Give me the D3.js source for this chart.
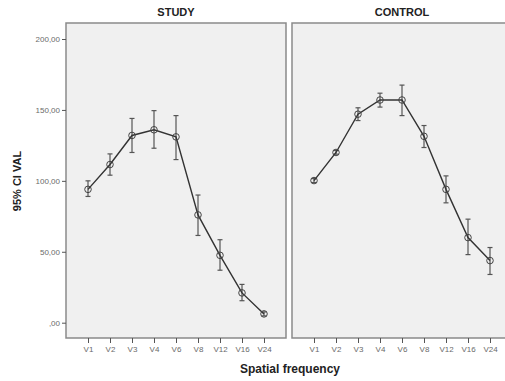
<!DOCTYPE html>
<html>
<head>
<meta charset="utf-8">
<script src="https://cdn.jsdelivr.net/npm/d3@7"></script>
<style>
  body { margin: 0; background: #fff; }
  svg { display: block; font-family: "Liberation Sans", Arial, sans-serif; }
</style>
</head>
<body>
<div id="chart"></div>
<script>
// categories (spatial frequency)
var freqs = ["V1", "V2", "V3", "V4", "V6", "V8", "V12", "V16", "V24"];
var yTicks = [0, 50, 100, 150, 200];

// STUDY group: mean and 95% CI
var studyMean = [94, 111.5, 132, 136, 131, 76, 47.5, 21, 6.2];
var studyLow  = [89, 104, 120, 123, 115, 61.5, 37, 15.5, 4.8];
var studyHigh = [100, 119, 144, 149.5, 146, 90, 58.5, 27, 7.6];

// CONTROL group: mean and 95% CI
var controlMean = [100.2, 120, 147, 157, 157, 131.4, 94, 60, 43.8];
var controlLow  = [98.8, 118.8, 142.5, 152, 146, 123.5, 84.5, 48, 34];
var controlHigh = [101.6, 121.4, 151.5, 161.8, 167.5, 139, 103.5, 73, 53];

var W = 505, H = 381;
var plotTop = 23, plotBottom = 338;
var panels = [
  {title: "STUDY", x0: 66, x1: 286, mean: studyMean, low: studyLow, high: studyHigh},
  {title: "CONTROL", x0: 292, x1: 512, mean: controlMean, low: controlLow, high: controlHigh}
];

var svg = d3.select("#chart").append("svg")
    .attr("width", W)
    .attr("height", H);

var y = d3.scaleLinear()
    .domain([0, 200])
    .range([322.7, 39]);

panels.forEach(function(p) {
    var x = d3.scalePoint()
        .domain(freqs)
        .range([p.x0, p.x1])
        .padding(1);

    // panel background
    svg.append("rect")
        .attr("x", p.x0)
        .attr("y", plotTop)
        .attr("width", p.x1 - p.x0)
        .attr("height", plotBottom - plotTop)
        .attr("fill", "#f0f0f0")
        .attr("stroke", "#8a8a8a")
        .attr("stroke-width", 1.5);

    // title
    svg.append("text")
        .attr("x", (p.x0 + p.x1) / 2)
        .attr("y", 16)
        .attr("text-anchor", "middle")
        .style("font-size", "11px")
        .style("font-weight", "bold")
        .attr("fill", "#222")
        .text(p.title);

    // x axis
    var xAxis = svg.append("g")
        .attr("transform", `translate(0,${plotBottom})`)
        .call(d3.axisBottom(x).tickSize(5).tickPadding(3));
    xAxis.select(".domain").remove();
    xAxis.selectAll("line").attr("stroke", "#555");
    xAxis.selectAll("text").attr("fill", "#6a6a6a").style("font-size", "8px");

    var pts = freqs.map((f, i) => ({f: f, m: p.mean[i], lo: p.low[i], hi: p.high[i]}));

    // error bars
    var eb = svg.append("g").attr("stroke", "#555").attr("stroke-width", 1.2);
    eb.selectAll(".v").data(pts).enter().append("line")
        .attr("x1", d => x(d.f)).attr("x2", d => x(d.f))
        .attr("y1", d => y(d.lo)).attr("y2", d => y(d.hi));
    eb.selectAll(".t").data(pts).enter().append("line")
        .attr("x1", d => x(d.f) - 2.5).attr("x2", d => x(d.f) + 2.5)
        .attr("y1", d => y(d.hi)).attr("y2", d => y(d.hi));
    eb.selectAll(".b").data(pts).enter().append("line")
        .attr("x1", d => x(d.f) - 2.5).attr("x2", d => x(d.f) + 2.5)
        .attr("y1", d => y(d.lo)).attr("y2", d => y(d.lo));

    // mean line
    svg.append("path")
        .datum(pts)
        .attr("fill", "none")
        .attr("stroke", "#333")
        .attr("stroke-width", 1.4)
        .attr("d", d3.line().x(d => x(d.f)).y(d => y(d.m)));

    // markers
    svg.append("g").selectAll("circle").data(pts).enter().append("circle")
        .attr("cx", d => x(d.f))
        .attr("cy", d => y(d.m))
        .attr("r", 3.3)
        .attr("fill", "none")
        .attr("stroke", "#444")
        .attr("stroke-width", 1);
});

// y axis on the left of the first panel
var yAxis = svg.append("g")
    .attr("transform", "translate(66,0)")
    .call(d3.axisLeft(y).tickValues(yTicks).tickSize(4).tickPadding(2)
        .tickFormat(d => d === 0 ? ",00" : d + ",00"));
yAxis.select(".domain").remove();
yAxis.selectAll("line").attr("stroke", "#555");
yAxis.selectAll("text").attr("fill", "#6a6a6a").style("font-size", "8px");

// axis titles
svg.append("text")
    .attr("transform", "translate(21,181) rotate(-90)")
    .attr("text-anchor", "middle")
    .style("font-size", "11px")
    .style("font-weight", "bold")
    .attr("fill", "#222")
    .text("95% CI VAL");

svg.append("text")
    .attr("x", 290)
    .attr("y", 373)
    .attr("text-anchor", "middle")
    .style("font-size", "12px")
    .style("font-weight", "bold")
    .attr("fill", "#222")
    .text("Spatial frequency");
</script>
</body>
</html>
